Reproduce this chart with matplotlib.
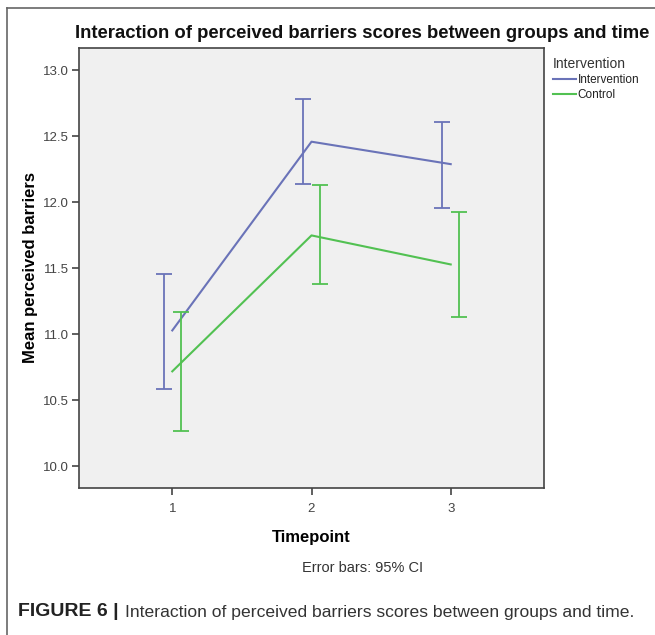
import matplotlib
matplotlib.use("Agg")
import matplotlib.pyplot as plt
from matplotlib.lines import Line2D

plt.rcParams['font.family'] = ['Liberation Sans', 'DejaVu Sans']

timepoints = [1, 2, 3]
groups = ["Intervention", "Control"]
interv_mean = [11.03, 12.46, 12.29]
interv_lo = [10.59, 12.14, 11.96]
interv_hi = [11.46, 12.78, 12.61]
ctrl_mean = [10.72, 11.75, 11.53]
ctrl_lo = [10.27, 11.38, 11.13]
ctrl_hi = [11.17, 12.13, 11.93]
yticks = [10.0, 10.5, 11.0, 11.5, 12.0, 12.5, 13.0]

c_int = '#6a73b8'
c_ctl = '#52c152'

fig = plt.figure(figsize=(6.55, 6.35), dpi=100)
W, H = 655, 635
def fx(px): return px / W
def fy(py): return 1 - py / H

# outer frame (top + left)
fig.add_artist(Line2D([fx(7), 1.0], [fy(8), fy(8)], color='#666666', lw=1.2))
fig.add_artist(Line2D([fx(7), fx(7)], [fy(8), 0.0], color='#666666', lw=1.2))

ax = fig.add_axes([fx(79), fy(487.5), fx(544) - fx(79), fy(48) - fy(487.5)])
ax.set_facecolor('#f0f0f0')
for s in ax.spines.values():
    s.set_color('#444444')
    s.set_linewidth(1.2)

dodge = 0.063
ax.plot(timepoints, interv_mean, color=c_int, lw=1.5, label=groups[0])
ax.plot(timepoints, ctrl_mean, color=c_ctl, lw=1.5, label=groups[1])
xi = [t - dodge for t in timepoints]
xc = [t + dodge for t in timepoints]
ax.errorbar(xi, interv_mean,
            yerr=[[m - l for m, l in zip(interv_mean, interv_lo)],
                  [h - m for m, h in zip(interv_mean, interv_hi)]],
            fmt='none', ecolor=c_int, elinewidth=1.3, capsize=6, capthick=1.3)
ax.errorbar(xc, ctrl_mean,
            yerr=[[m - l for m, l in zip(ctrl_mean, ctrl_lo)],
                  [h - m for m, h in zip(ctrl_mean, ctrl_hi)]],
            fmt='none', ecolor=c_ctl, elinewidth=1.3, capsize=6, capthick=1.3)

ax.set_xlim(0.33, 3.67)
ax.set_ylim(9.84, 13.17)
ax.set_xticks(timepoints)
ax.set_xticklabels([str(t) for t in timepoints])
ax.set_yticks(yticks)
ax.set_yticklabels([f"{v:.1f}" for v in yticks])
ax.tick_params(axis='both', direction='out', length=5, width=1.2, color='#444444',
               labelsize=9.5, labelcolor='#444444', pad=2)
ax.tick_params(axis='x', pad=6)

ax.set_xlabel("Timepoint", fontsize=12, fontweight='bold', labelpad=11)
ax.set_ylabel("Mean perceived barriers", fontsize=12, fontweight='bold', labelpad=4)

fig.text(fx(75), fy(33), "Interaction of perceived barriers scores between groups and time",
         fontsize=13.3, fontweight='bold', va='center', ha='left', color='#111111')

leg = ax.legend(loc='upper left', bbox_to_anchor=(1.0, 1.0), frameon=False,
                title="Intervention", fontsize=8.5, title_fontsize=10,
                handlelength=2.0, handletextpad=0.1, labelspacing=0.25,
                borderaxespad=0.35, alignment='left')
for t in leg.get_texts():
    t.set_color('#222222')
leg.get_title().set_color('#333333')

fig.text(fx(363), fy(568), "Error bars: 95% CI", fontsize=10.5, ha='center', va='center',
         color='#333333')

fig.text(fx(18), fy(612), "FIGURE 6 |", fontsize=14, fontweight='bold', ha='left',
         va='center', color='#222222')
fig.text(fx(125), fy(612), "Interaction of perceived barriers scores between groups and time.",
         fontsize=12.6, ha='left', va='center', color='#333333')

fig.savefig("out.png", dpi=100)
